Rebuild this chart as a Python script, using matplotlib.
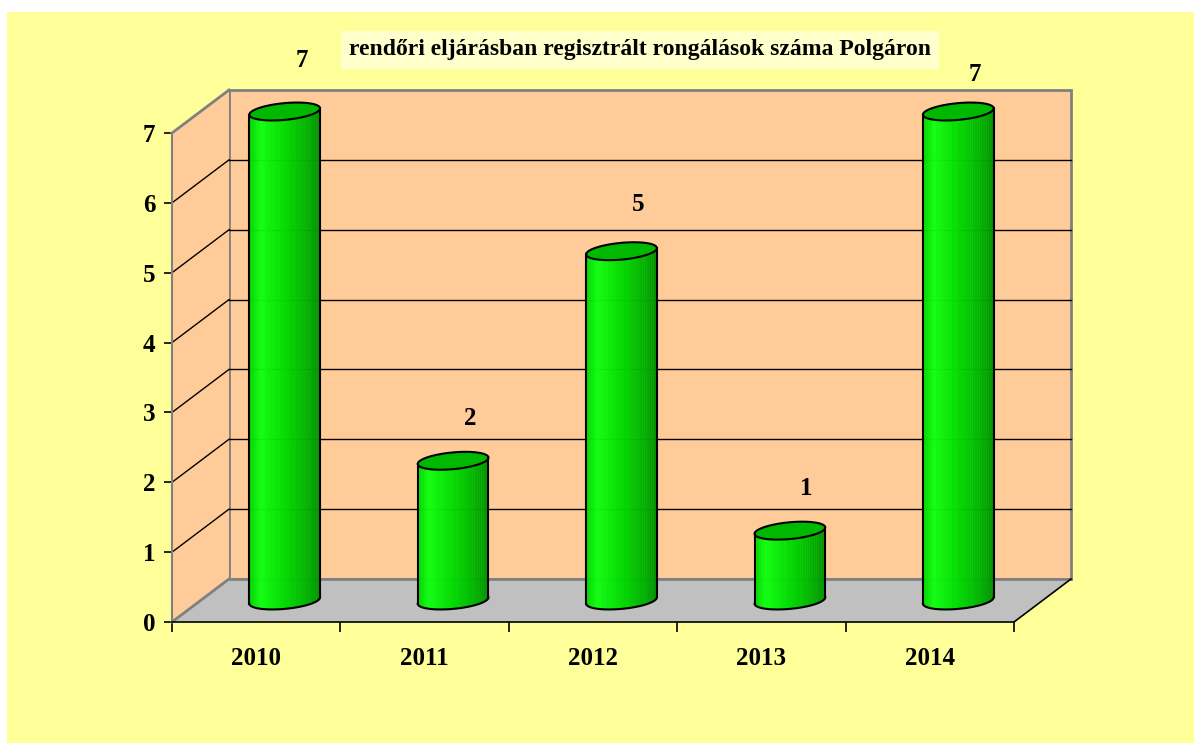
import numpy as np
import matplotlib
matplotlib.use("Agg")
import matplotlib.pyplot as plt
from matplotlib.patches import Polygon, Rectangle
from matplotlib.colors import LinearSegmentedColormap

years = ["2010", "2011", "2012", "2013", "2014"]
counts = [7, 2, 5, 1, 7]
label_lift = [0.73, 0.6, 0.67, 0.6, 0.53]   # manual label positions as in the original
y_ticks = [0, 1, 2, 3, 4, 5, 6, 7]
title = "rendőri eljárásban regisztrált rongálások száma Polgáron"

W, H = 1194, 743
fig = plt.figure(figsize=(W / 100, H / 100), dpi=100, facecolor="white")
fig.patches.append(Rectangle((7 / W, -0.01), 1.01 - 7 / W, 1.01 - 12 / H, transform=fig.transFigure,
                             facecolor="#FFFF99", edgecolor="none", zorder=-5))

# front plane of the 3D box
x0, x1, yb, yt = 172, 1014, 622, 133
ax = fig.add_axes([x0 / W, (H - yb) / H, (x1 - x0) / W, (yb - yt) / H])
ax.set_xlim(-0.5, len(years) - 0.5)
ax.set_ylim(0, 7)
ax.patch.set_visible(False)

# depth offset (57 px right, 43 px up) in data units
dx = 57 / ((x1 - x0) / len(years))
dy = 43 / ((yb - yt) / 7)
ymax = 7
L, R = -0.5, len(years) - 0.5

wall = "#FFCC99"
ax.add_patch(Polygon([(L + dx, dy), (R + dx, dy), (R + dx, ymax + dy), (L + dx, ymax + dy)],
                     closed=True, facecolor=wall, edgecolor="#808080", lw=2, zorder=1, clip_on=False))
ax.add_patch(Polygon([(L, 0), (L, ymax), (L + dx, ymax + dy), (L + dx, dy)],
                     closed=True, facecolor=wall, edgecolor="none", zorder=1, clip_on=False))
ax.add_patch(Polygon([(L, 0), (R, 0), (R + dx, dy), (L + dx, dy)],
                     closed=True, facecolor="#C0C0C0", edgecolor="none", zorder=1, clip_on=False))
ax.plot([L, L + dx], [ymax, ymax + dy], color="#808080", lw=2, zorder=2, clip_on=False)
ax.plot([L, L + dx], [0, dy], color="#808080", lw=2, zorder=2, clip_on=False)
ax.plot([L + dx, R + dx], [dy, dy], color="#808080", lw=2, zorder=2, clip_on=False)
ax.plot([R, R + dx], [0, dy], color="black", lw=1.2, zorder=2, clip_on=False)
for v in y_ticks[1:-1]:
    ax.plot([L + dx, R + dx], [v + dy, v + dy], color="black", lw=1, zorder=1.5, clip_on=False)
    ax.plot([L, L + dx], [v, v + dy], color="black", lw=1, zorder=1.5, clip_on=False)

# cylinders
cmap = LinearSegmentedColormap.from_list(
    "cyl", [(0, "#00D800"), (0.15, "#10FF10"), (0.5, "#00DC00"), (0.85, "#00B000"), (1, "#009400")])
half_w = 0.21
eh = 0.12
tilt = 0.045
t = np.linspace(0, 2 * np.pi, 200)

def ell(cx, cy):
    return cx + half_w * np.cos(t), cy + eh * np.sin(t) + tilt * np.cos(t)

for i, v in enumerate(counts):
    cx = i + dx / 2
    base = dy / 2
    top = v + dy / 2
    edges = np.linspace(cx - half_w, cx + half_w, 41)
    for k in range(len(edges) - 1):
        xa, xb = edges[k], edges[k + 1]
        xs = np.array([xa, xb])
        u = (xs - cx) / half_w
        ba = base - eh * np.sqrt(np.clip(1 - u ** 2, 0, 1)) + tilt * u
        ta = top + tilt * u
        ax.fill([xa, xb, xb, xa], [ba[0], ba[1], ta[1], ta[0]],
                color=cmap(k / (len(edges) - 2)), lw=0.3, zorder=3, clip_on=False)
    ex, ey = ell(cx, top)
    ax.fill(ex, ey, facecolor="#00B800", edgecolor="black", lw=1.5, zorder=4, clip_on=False)
    lower = t[(t >= np.pi)]
    ax.plot(cx + half_w * np.cos(lower), base + eh * np.sin(lower) + tilt * np.cos(lower),
            color="black", lw=1.5, zorder=4, clip_on=False)
    ax.plot([cx - half_w, cx - half_w], [base - tilt, top - tilt], color="black", lw=1.5, zorder=4, clip_on=False)
    ax.plot([cx + half_w, cx + half_w], [base + tilt, top + tilt], color="black", lw=1.5, zorder=4, clip_on=False)
    ax.text(cx + 0.1, top + label_lift[i], str(v), ha="center", va="center",
            fontsize=18, fontweight="bold", family="Liberation Serif", zorder=5)

# axes
font = dict(fontsize=18, fontweight="bold", family="Liberation Serif")
for s in ["top", "right"]:
    ax.spines[s].set_visible(False)
ax.spines["left"].set_color("#808080")
ax.spines["left"].set_linewidth(1.5)
ax.spines["bottom"].set_color("black")
ax.spines["bottom"].set_linewidth(1.2)
ax.set_yticks(y_ticks)
ax.set_yticklabels([str(v) for v in y_ticks], **font)
ax.set_xticks(np.arange(len(years) + 1) - 0.5)
ax.set_xticklabels([])
ax.set_xticks(np.arange(len(years)), minor=True)
ax.set_xticklabels(years, minor=True, **font)
ax.tick_params(axis="y", direction="out", length=6, width=1.2, color="black", pad=6)
ax.tick_params(axis="x", which="major", direction="out", length=7, width=1.2, color="black")
ax.tick_params(axis="x", which="minor", length=0, pad=18)

fig.text(640 / W, 1 - 50 / H, title, ha="center", va="center", fontsize=17, fontweight="bold",
         family="Liberation Serif",
         bbox=dict(boxstyle="square,pad=0.35", facecolor="#FFFFCC", edgecolor="none"))

fig.savefig("out.png", dpi=100, facecolor="white")
